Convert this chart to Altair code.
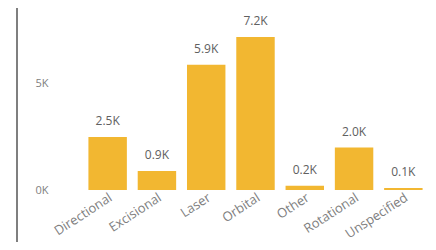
import altair as alt
import pandas as pd

categories = ["Directional", "Excisional", "Laser", "Orbital", "Other", "Rotational", "Unspecified"]
values = [2500, 900, 5900, 7200, 200, 2000, 100]

df = pd.DataFrame({"cat": categories, "val": values})

base = alt.Chart(df)

x = alt.X("cat:N", sort=None, title=None,
          scale=alt.Scale(paddingInner=0.22, paddingOuter=0.11),
          axis=alt.Axis(labelAngle=-33, labelAlign="right", labelBaseline="top",
                        labelPadding=1, domain=False, ticks=False, labelOverlap=False,
                        labelColor="#808080", labelFontSize=13, labelFont="Open Sans"))
y = alt.Y("val:Q", title=None,
          scale=alt.Scale(domain=[0, 8000], nice=False),
          axis=alt.Axis(values=[0, 5000], labelExpr="format(datum.value/1000, 'd') + 'K'",
                        domain=False, ticks=False, grid=False, labelPadding=35,
                        labelColor="#808080", labelFontSize=11, labelFont="Open Sans"))

bars = base.mark_bar(color="#F2B731").encode(x=x, y=y)

labels = base.transform_calculate(
    lbl="format(datum.val/1000, '.1f') + 'K'"
).mark_text(baseline="bottom", dy=-9, fontSize=12, color="#606060", font="Open Sans").encode(
    x=alt.X("cat:N", sort=None), y="val:Q", text="lbl:N")

border = alt.Chart(pd.DataFrame({"a": [0]})).mark_rule(color="#555555", strokeWidth=1.5).encode(
    x=alt.value(-66), y=alt.value(-20), y2=alt.value(250))

chart = alt.layer(bars, labels, border).properties(
    width=345, height=170, padding={"left": 75, "top": 12, "right": 0, "bottom": 52},
    autosize=alt.AutoSizeParams(type="none"), background="white"
).configure_view(strokeWidth=0, stroke=None)

chart.save("out.html", embed_options={"renderer": "svg", "actions": False})
